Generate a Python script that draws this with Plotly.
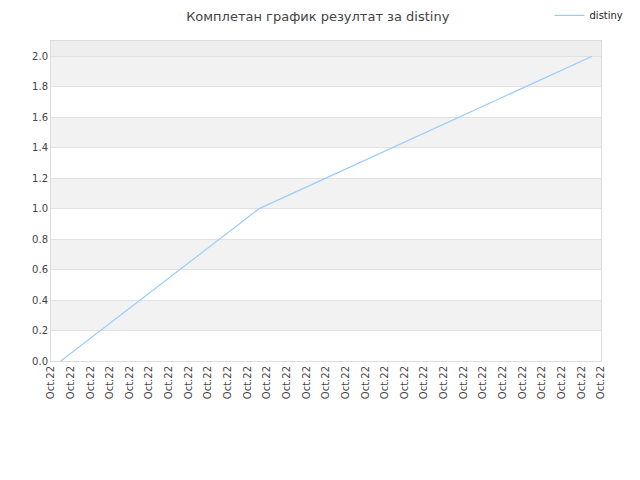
import plotly.graph_objects as go

# data
x_labels = ["Oct.22"] * 29
x_points = [0.5, 10.6, 27.55]
scores = [0.0, 1.0, 2.0]
y_ticks = [0.0, 0.2, 0.4, 0.6, 0.8, 1.0, 1.2, 1.4, 1.6, 1.8, 2.0]

fig = go.Figure()
fig.add_trace(go.Scatter(x=x_points, y=scores, mode="lines", name="distiny",
                         line=dict(color="#99ccff", width=1.2)))

# alternating bands
shapes = []
for i in range(1, len(y_ticks) - 1, 2):
    shapes.append(dict(type="rect", xref="paper", yref="y", x0=0, x1=1,
                       y0=y_ticks[i], y1=y_ticks[i + 1], fillcolor="#f2f2f2",
                       line_width=0, layer="below"))
shapes.append(dict(type="rect", xref="paper", yref="y", x0=0, x1=1,
                   y0=y_ticks[-1], y1=2.1, fillcolor="#eeeeee",
                   line_width=0, layer="below"))

fig.update_layout(
    width=640, height=480,
    title=dict(text="Комплетан график резултат за distiny", x=0.484, y=0.983,
               yanchor="middle",
               font=dict(family="DejaVu Sans", size=13, color="#444")),
    font=dict(family="DejaVu Sans", size=10, color="#444"),
    paper_bgcolor="white", plot_bgcolor="white",
    margin=dict(l=43, r=47, t=33, b=127, autoexpand=False),
    showlegend=True,
    legend=dict(x=1.05, y=1.08, xanchor="right", yanchor="middle",
                itemwidth=30, font=dict(size=10, color="#222"),
                bgcolor="rgba(0,0,0,0)"),
    shapes=shapes,
    xaxis=dict(range=[0, 28], tickmode="array", tickvals=list(range(len(x_labels))),
               ticktext=x_labels, tickangle=-90, showgrid=False, zeroline=False,
               showline=True, linecolor="#dddddd", mirror=True, ticks="",
               automargin=False),
    yaxis=dict(range=[0, 2.1], tickvals=y_ticks,
               ticktext=["%.1f" % v for v in y_ticks], showgrid=True,
               gridcolor="#e2e2e2", zeroline=False, showline=True,
               linecolor="#dddddd", mirror=True, ticks="", automargin=False),
)

fig.write_html("out.html")
